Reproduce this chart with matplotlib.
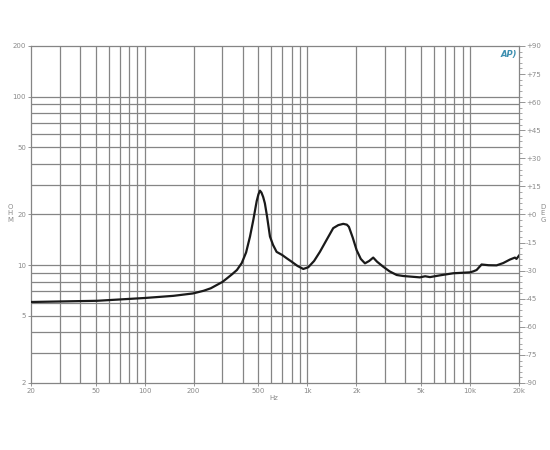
import numpy as np
import matplotlib.pyplot as plt
from matplotlib.ticker import FixedLocator, NullFormatter, NullLocator

# impedance curve
freq = [20, 51, 100, 150, 198, 230, 255, 278, 300, 320, 345, 369, 395, 420, 444,
        465, 488, 500, 511, 522, 535, 548, 565, 589, 615, 647, 700, 746, 800, 870,
        944, 1012, 1100, 1194, 1300, 1442, 1550, 1662, 1750, 1800, 1900, 2008,
        2130, 2260, 2400, 2540, 2680, 2925, 3200, 3540, 3880, 4920, 5300, 5670,
        6500, 7890, 9980, 10500, 10980, 11780, 13000, 14560, 16000, 17580, 18880,
        19300, 20000]
ohm = [6.05, 6.15, 6.39, 6.58, 6.8, 7.05, 7.3, 7.64, 7.95, 8.35, 8.85, 9.37, 10.3,
       11.9, 14.8, 18.5, 24.0, 26.3, 27.7, 27.0, 25.4, 23.3, 19.5, 14.8, 13.2,
       12.0, 11.5, 11.0, 10.5, 9.9, 9.5, 9.72, 10.6, 12.0, 13.9, 16.6, 17.3, 17.6,
       17.4, 16.9, 14.6, 12.3, 10.9, 10.26, 10.6, 11.1, 10.5, 9.8, 9.2, 8.75, 8.63,
       8.47, 8.6, 8.5, 8.7, 8.96, 9.07, 9.2, 9.37, 10.1, 10.0, 9.98, 10.3, 10.8,
       11.1, 10.9, 11.4]

x_grid = [30, 40, 50, 60, 70, 80, 90, 100, 200, 300, 400, 500, 600, 700, 800, 900,
          1000, 2000, 3000, 4000, 5000, 6000, 7000, 8000, 9000, 10000]
x_ticks = [20, 50, 100, 200, 500, 1000, 2000, 5000, 10000, 20000]
x_labels = ['20', '50', '100', '200', '500', '1k', '2k', '5k', '10k', '20k']
y_grid = [3, 4, 5, 6, 7, 8, 9, 10, 20, 30, 40, 50, 60, 70, 80, 90, 100]
y_ticks = [2, 5, 10, 20, 50, 100, 200]
phase_ticks = list(range(-90, 91, 15))

grey = '#858585'
lab = '#8a8a8a'

fig = plt.figure(figsize=(5.5, 4.5), dpi=100)
ax = fig.add_axes([0.0564, 0.1489, 0.8872, 0.7489])
ax.set_xscale('log')
ax.set_yscale('log')
ax.set_xlim(20, 20000)
ax.set_ylim(2, 200)

for v in x_grid:
    ax.axvline(v, color=grey, lw=0.9, zorder=1)
for v in y_grid:
    ax.axhline(v, color=grey, lw=0.9, zorder=1)

ax.plot(freq, ohm, color='#1a1a1a', lw=1.6, zorder=3)

ax.xaxis.set_major_locator(FixedLocator(x_ticks))
ax.set_xticklabels(x_labels)
ax.xaxis.set_minor_locator(NullLocator())
ax.xaxis.set_minor_formatter(NullFormatter())
ax.yaxis.set_major_locator(FixedLocator(y_ticks))
ax.set_yticklabels([str(v) for v in y_ticks])
ax.yaxis.set_minor_locator(NullLocator())
ax.yaxis.set_minor_formatter(NullFormatter())
ax.tick_params(axis='both', length=2, width=0.6, color=grey, labelsize=5,
               labelcolor=lab, pad=1.5)
for s in ax.spines.values():
    s.set_color(grey)
    s.set_linewidth(0.9)

ax2 = ax.twinx()
ax2.set_ylim(-90, 90)
ax2.set_yticks(phase_ticks)
ax2.set_yticklabels([('+%d' % v) if v >= 0 else str(v) for v in phase_ticks])
ax2.set_yticks(list(range(-90, 91, 3)), minor=True)
ax2.tick_params(axis='y', which='major', length=4, width=0.6, color=grey,
                labelsize=5, labelcolor=lab, pad=1)
ax2.tick_params(axis='y', which='minor', length=2, width=0.5, color=grey)
for s in ax2.spines.values():
    s.set_visible(False)

fig.text(10 / 550, 1 - 213 / 450, 'O\nH\nM', fontsize=5, color=lab,
         ha='center', va='center', linespacing=1.1)
fig.text(543 / 550, 1 - 213 / 450, 'D\nE\nG', fontsize=5, color=lab,
         ha='center', va='center', linespacing=1.1)
fig.text(274 / 550, 1 - 398 / 450, 'Hz', fontsize=5, color=lab,
         ha='center', va='center')
fig.text(509 / 550, 1 - 54 / 450, 'AP)', fontsize=6, color='#3d8fb0',
         ha='center', va='center', style='italic', fontweight='bold')

fig.savefig('out.png', dpi=100, facecolor='white')
